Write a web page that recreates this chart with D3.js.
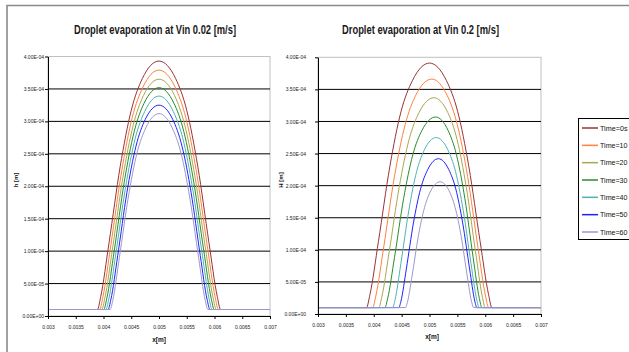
<!DOCTYPE html>
<html>
<head>
<meta charset="utf-8">
<script src="https://cdn.jsdelivr.net/npm/d3@7"></script>
<style>
  html, body { margin: 0; padding: 0; background: #fff; }
  svg { display: block; font-family: "Liberation Sans", Arial, sans-serif; }
</style>
</head>
<body>
<div id="chart"></div>
<script>
// Series names shared by both panels (as far as they show in the legend)
const seriesNames = ['Time=0s', 'Time=10', 'Time=20', 'Time=30', 'Time=40', 'Time=50', 'Time=60'];

// Axis ticks
const xTickValues = [0.003, 0.0035, 0.004, 0.0045, 0.005, 0.0055, 0.006, 0.0065, 0.007];
const xTickLabels = ['0.003', '0.0035', '0.004', '0.0045', '0.005', '0.0055', '0.006', '0.0065', '0.007'];
const yTickValues = [0, 5e-5, 1e-4, 1.5e-4, 2e-4, 2.5e-4, 3e-4, 3.5e-4, 4e-4];
const yTickLabels = ['0.00E+00', '5.00E-05', '1.00E-04', '1.50E-04', '2.00E-04', '2.50E-04', '3.00E-04', '3.50E-04', '4.00E-04'];

// Vin 0.02 m/s : x [m] and h [m] for each time step
const vin002X = [
    [0.003, 0.00389, 0.00395, 0.0041, 0.0043, 0.0045, 0.0047, 0.005, 0.0053, 0.0055, 0.0057, 0.0059, 0.00605, 0.00611, 0.007],
    [0.003, 0.00393, 0.003988, 0.004132, 0.004325, 0.004518, 0.004711, 0.005, 0.005289, 0.005482, 0.005675, 0.005868, 0.006012, 0.00607, 0.007],
    [0.003, 0.003969, 0.004025, 0.004164, 0.00435, 0.004535, 0.004721, 0.005, 0.005279, 0.005465, 0.00565, 0.005836, 0.005975, 0.006031, 0.007],
    [0.003, 0.004005, 0.004059, 0.004194, 0.004373, 0.004552, 0.004731, 0.005, 0.005269, 0.005448, 0.005627, 0.005806, 0.005941, 0.005995, 0.007],
    [0.003, 0.004043, 0.004095, 0.004224, 0.004397, 0.004569, 0.004741, 0.005, 0.005259, 0.005431, 0.005603, 0.005776, 0.005905, 0.005957, 0.007],
    [0.003, 0.004082, 0.004132, 0.004256, 0.004421, 0.004586, 0.004752, 0.005, 0.005248, 0.005414, 0.005579, 0.005744, 0.005868, 0.005918, 0.007],
    [0.003, 0.00412, 0.004167, 0.004286, 0.004445, 0.004603, 0.004762, 0.005, 0.005238, 0.005397, 0.005555, 0.005714, 0.005833, 0.00588, 0.007]
];
const vin002H = [
    [1e-5, 1e-5, 3.0e-5, 1.13e-4, 2.30e-4, 3.17e-4, 3.66e-4, 3.93e-4, 3.66e-4, 3.17e-4, 2.30e-4, 1.13e-4, 3.0e-5, 1e-5, 1e-5],
    [1e-5, 1e-5, 2.9e-5, 1.09e-4, 2.22e-4, 3.06e-4, 3.53e-4, 3.79e-4, 3.53e-4, 3.06e-4, 2.22e-4, 1.09e-4, 2.9e-5, 1e-5, 1e-5],
    [1e-5, 1e-5, 2.8e-5, 1.05e-4, 2.14e-4, 2.94e-4, 3.40e-4, 3.65e-4, 3.40e-4, 2.94e-4, 2.14e-4, 1.05e-4, 2.8e-5, 1e-5, 1e-5],
    [1e-5, 1e-5, 2.7e-5, 1.01e-4, 2.06e-4, 2.84e-4, 3.28e-4, 3.52e-4, 3.28e-4, 2.84e-4, 2.06e-4, 1.01e-4, 2.7e-5, 1e-5, 1e-5],
    [1e-5, 1e-5, 2.6e-5, 9.7e-5, 1.98e-4, 2.73e-4, 3.15e-4, 3.39e-4, 3.15e-4, 2.73e-4, 1.98e-4, 9.7e-5, 2.6e-5, 1e-5, 1e-5],
    [1e-5, 1e-5, 2.5e-5, 9.3e-5, 1.90e-4, 2.62e-4, 3.03e-4, 3.25e-4, 3.03e-4, 2.62e-4, 1.90e-4, 9.3e-5, 2.5e-5, 1e-5, 1e-5],
    [1e-5, 1e-5, 2.4e-5, 9.0e-5, 1.82e-4, 2.51e-4, 2.90e-4, 3.12e-4, 2.90e-4, 2.51e-4, 1.82e-4, 9.0e-5, 2.4e-5, 1e-5, 1e-5]
];

// Vin 0.2 m/s : x [m] and H [m] for each time step
const vin02X = [
    [0.003, 0.00387, 0.003931, 0.004084, 0.004287, 0.004491, 0.004695, 0.005, 0.005302, 0.005504, 0.005707, 0.005908, 0.00606, 0.00612, 0.007],
    [0.003, 0.00398, 0.004037, 0.00418, 0.004371, 0.004563, 0.004754, 0.00504, 0.005315, 0.005499, 0.005684, 0.005867, 0.006005, 0.00606, 0.007],
    [0.003, 0.00409, 0.004143, 0.004277, 0.004455, 0.004634, 0.004813, 0.00508, 0.005328, 0.005494, 0.005661, 0.005826, 0.00595, 0.006, 0.007],
    [0.003, 0.0042, 0.004249, 0.004372, 0.004536, 0.0047, 0.004864, 0.00511, 0.005334, 0.005484, 0.005634, 0.005783, 0.005895, 0.00594, 0.007],
    [0.003, 0.00434, 0.004382, 0.004487, 0.004628, 0.004769, 0.004909, 0.00512, 0.005328, 0.005467, 0.005606, 0.005744, 0.005848, 0.00589, 0.007],
    [0.003, 0.00445, 0.004488, 0.004584, 0.004712, 0.00484, 0.004968, 0.00516, 0.005346, 0.005471, 0.005595, 0.00572, 0.005813, 0.00585, 0.007],
    [0.003, 0.00457, 0.004603, 0.004687, 0.004799, 0.004911, 0.005023, 0.00519, 0.005352, 0.00546, 0.005569, 0.005677, 0.005758, 0.00579, 0.007]
];
const vin02H = [
    [1e-5, 1e-5, 3.0e-5, 1.13e-4, 2.29e-4, 3.16e-4, 3.64e-4, 3.91e-4, 3.64e-4, 3.16e-4, 2.29e-4, 1.13e-4, 3.0e-5, 1e-5, 1e-5],
    [1e-5, 1e-5, 2.8e-5, 1.05e-4, 2.14e-4, 2.95e-4, 3.41e-4, 3.66e-4, 3.41e-4, 2.95e-4, 2.14e-4, 1.05e-4, 2.8e-5, 1e-5, 1e-5],
    [1e-5, 1e-5, 2.6e-5, 9.7e-5, 1.97e-4, 2.72e-4, 3.14e-4, 3.37e-4, 3.14e-4, 2.72e-4, 1.97e-4, 9.7e-5, 2.6e-5, 1e-5, 1e-5],
    [1e-5, 1e-5, 2.4e-5, 8.8e-5, 1.80e-4, 2.48e-4, 2.86e-4, 3.07e-4, 2.86e-4, 2.48e-4, 1.80e-4, 8.8e-5, 2.4e-5, 1e-5, 1e-5],
    [1e-5, 1e-5, 2.2e-5, 7.9e-5, 1.61e-4, 2.22e-4, 2.56e-4, 2.75e-4, 2.56e-4, 2.22e-4, 1.61e-4, 7.9e-5, 2.2e-5, 1e-5, 1e-5],
    [1e-5, 1e-5, 2.0e-5, 7.0e-5, 1.42e-4, 1.95e-4, 2.25e-4, 2.42e-4, 2.25e-4, 1.95e-4, 1.42e-4, 7.0e-5, 2.0e-5, 1e-5, 1e-5],
    [1e-5, 1e-5, 1.8e-5, 5.9e-5, 1.21e-4, 1.66e-4, 1.92e-4, 2.06e-4, 1.92e-4, 1.66e-4, 1.21e-4, 5.9e-5, 1.8e-5, 1e-5, 1e-5]
];

// Line colours, one per time step
const colours = ['#993333', '#ff8040', '#a8a850', '#2a8c2a', '#4db3b3', '#2020ff', '#9999cc'];

const width = 629;
const height = 352;

const svg = d3.select('#chart')
    .append('svg')
    .attr('width', width)
    .attr('height', height);

svg.append('rect')
    .attr('width', width)
    .attr('height', height)
    .attr('fill', '#fff');

// Outer frame (only the top and left edges are inside the picture)
svg.append('path')
    .attr('d', `M7,${height} V5.5 H${width}`)
    .attr('fill', 'none')
    .attr('stroke', '#8a8a8a')
    .attr('stroke-width', 1.6);

function drawPanel(cfg) {
    const x = d3.scaleLinear().domain([0.003, 0.007]).range([cfg.left, cfg.right]);
    const y = d3.scaleLinear().domain([0, 4e-4]).range([cfg.bottom, cfg.top]);
    const g = svg.append('g');

    // Plot area border
    g.append('rect')
        .attr('x', cfg.left)
        .attr('y', cfg.top)
        .attr('width', cfg.right - cfg.left)
        .attr('height', cfg.bottom - cfg.top)
        .attr('fill', '#fff')
        .attr('stroke', '#c0c0c0')
        .attr('stroke-width', 1);

    // Horizontal gridlines (no pixel snapping, like the original)
    g.append('g')
        .selectAll('line')
        .data(yTickValues.filter(v => v > 0 && v < 4e-4))
        .join('line')
        .attr('x1', cfg.left)
        .attr('x2', cfg.right)
        .attr('y1', d => y(d))
        .attr('y2', d => y(d))
        .attr('stroke', '#000')
        .attr('stroke-width', 1);

    // Curves
    const line = d3.line()
        .x(d => x(d[0]))
        .y(d => y(d[1]))
        .curve(d3.curveMonotoneX);

    cfg.xs.forEach((xs, i) => {
        const pts = xs.map((v, j) => [v, cfg.hs[i][j]]);
        g.append('path')
            .datum(pts)
            .attr('fill', 'none')
            .attr('stroke', colours[i])
            .attr('stroke-width', 1)
            .attr('d', line);
    });

    // Axes
    const yAxis = d3.axisLeft(y)
        .tickValues(yTickValues)
        .tickFormat((d, i) => yTickLabels[i])
        .tickSize(3)
        .tickSizeOuter(0)
        .tickPadding(cfg.yPad);
    const ya = g.append('g')
        .attr('transform', `translate(${cfg.left},0)`)
        .call(yAxis);

    const xAxis = d3.axisBottom(x)
        .tickValues(xTickValues)
        .tickFormat((d, i) => xTickLabels[i])
        .tickSize(3)
        .tickSizeOuter(0)
        .tickPadding(cfg.xPad);
    const xa = g.append('g')
        .attr('transform', `translate(0,${cfg.bottom})`)
        .call(xAxis);

    [ya, xa].forEach(a => {
        a.select('.domain').attr('stroke', '#000');
        a.selectAll('.tick line').attr('stroke', '#000');
        a.selectAll('.tick text')
            .attr('fill', '#222')
            .style('font-size', '5px')
            .style('font-family', '"Liberation Sans", Arial, sans-serif');
    });

    // Title
    g.append('text')
        .attr('x', cfg.titleX)
        .attr('y', 34)
        .attr('text-anchor', 'middle')
        .attr('fill', '#1a1a1a')
        .attr('textLength', cfg.titleLen)
        .attr('lengthAdjust', 'spacingAndGlyphs')
        .style('font-size', '12.5px')
        .style('font-weight', 'bold')
        .text(cfg.title);

    // Axis titles
    g.append('text')
        .attr('x', cfg.xTitleX)
        .attr('y', cfg.xTitleY)
        .attr('text-anchor', 'middle')
        .attr('fill', '#111')
        .style('font-size', '6.5px')
        .style('font-weight', 'bold')
        .text('x[m]');

    g.append('text')
        .attr('transform', `translate(${cfg.yTitleX},180) rotate(-90)`)
        .attr('text-anchor', 'middle')
        .attr('fill', '#111')
        .style('font-size', '6px')
        .style('font-weight', 'bold')
        .text(cfg.yTitle);
}

drawPanel({
    left: 48, right: 270, top: 56.5, bottom: 316,
    xs: vin002X, hs: vin002H,
    yPad: 1, xPad: 6,
    title: 'Droplet evaporation at Vin 0.02 [m/s]', titleX: 155, titleLen: 162,
    xTitleX: 159, xTitleY: 342, yTitle: 'h [m]', yTitleX: 18
});

drawPanel({
    left: 318, right: 541, top: 57.3, bottom: 314,
    xs: vin02X, hs: vin02H,
    yPad: 9, xPad: 6.5,
    title: 'Droplet evaporation at Vin 0.2 [m/s]', titleX: 420.5, titleLen: 157,
    xTitleX: 432, xTitleY: 339, yTitle: 'H [m]', yTitleX: 283
});

// Legend (the right part is cut by the picture edge)
const legend = svg.append('g');
legend.append('rect')
    .attr('x', 578.5)
    .attr('y', 118.5)
    .attr('width', 80)
    .attr('height', 121)
    .attr('fill', '#fff')
    .attr('stroke', '#000')
    .attr('stroke-width', 1);

const ly = d3.scalePoint().domain(seriesNames).range([128, 232]);
const item = legend.selectAll('g.item')
    .data(seriesNames)
    .join('g')
    .attr('class', 'item')
    .attr('transform', d => `translate(0,${ly(d)})`);

item.append('line')
    .attr('x1', 582)
    .attr('x2', 598)
    .attr('stroke', (d, i) => colours[i])
    .attr('stroke-width', 1.5);

item.append('text')
    .attr('x', 600)
    .attr('dy', '0.35em')
    .attr('fill', '#111')
    .attr('textLength', 27.5)
    .attr('lengthAdjust', 'spacingAndGlyphs')
    .style('font-size', '7.3px')
    .text(d => d);
</script>
</body>
</html>
